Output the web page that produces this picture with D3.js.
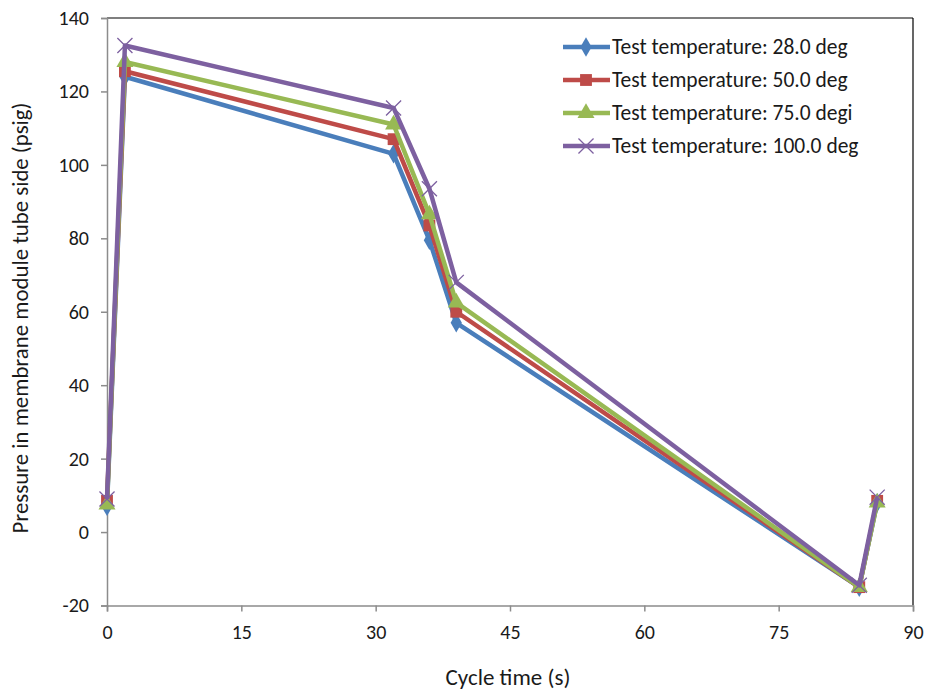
<!doctype html>
<html>
  <head>
    <meta charset='utf-8'>
    <script src="https://d3js.org/d3.v7.min.js"></script>
    <style>
      body { margin: 0; background: #fff; }
      text { font-family: Calibri, "Liberation Sans", sans-serif; fill: #1a1a1a; }
    </style>
  </head>

  <body>
  <svg width="927" height="690"></svg>

  <script>
    const cycleTime = [0, 2, 32, 36, 39, 84, 86];
    const t28 = [7, 124, 103, 79.5, 57, -15, 8];
    const t50 = [8.5, 125.5, 107, 83.5, 60, -15, 8.5];
    const t75 = [7.5, 128, 111, 86.5, 62.5, -15, 8];
    const t100 = [9, 132.5, 115.5, 93.5, 68, -14.5, 9.5];
    const seriesNames = ["Test temperature: 28.0 deg", "Test temperature: 50.0 deg",
                         "Test temperature: 75.0 degi", "Test temperature: 100.0 deg"];
    const xTicks = [0, 15, 30, 45, 60, 75, 90];
    const yTicks = [-20, 0, 20, 40, 60, 80, 100, 120, 140];

    const series = [
      {name: seriesNames[0], values: t28, color: "#4a7ebb", marker: "diamond"},
      {name: seriesNames[1], values: t50, color: "#be4b48", marker: "square"},
      {name: seriesNames[2], values: t75, color: "#98b954", marker: "triangle"},
      {name: seriesNames[3], values: t100, color: "#7d60a0", marker: "cross"}
    ];

    const svg = d3.select("svg");
    const plotL = 107, plotR = 913, plotT = 18, plotB = 605.5;

    const x = d3.scaleLinear().domain([0, 90]).range([plotL, plotR]);
    const y = d3.scaleLinear().domain([-20, 140]).range([plotB, plotT]);

    // frame: top and right black, axes gray
    svg.append("line").attr("x1", plotL).attr("x2", plotR).attr("y1", plotT).attr("y2", plotT)
      .attr("stroke", "#000").attr("stroke-width", 1.2);
    svg.append("line").attr("x1", plotR).attr("x2", plotR).attr("y1", plotT).attr("y2", plotB)
      .attr("stroke", "#000").attr("stroke-width", 1.2);

    const xAxis = svg.append("g")
      .attr("transform", `translate(0,${plotB})`)
      .call(d3.axisBottom(x).tickValues(xTicks).tickSize(6).tickPadding(13)
        .tickFormat((d) => String(d)));
    const yAxis = svg.append("g")
      .attr("transform", `translate(${plotL},0)`)
      .call(d3.axisLeft(y).tickValues(yTicks).tickSize(6).tickPadding(12)
        .tickFormat((d) => String(d)));

    [xAxis, yAxis].forEach((g) => {
      g.select(".domain").attr("stroke", "#8c8c8c").attr("stroke-width", 1.5);
      g.selectAll(".tick line").attr("stroke", "#8c8c8c").attr("stroke-width", 1.5);
      g.selectAll(".tick text").style("font-family", "Calibri, 'Liberation Sans', sans-serif")
        .style("font-size", "20px").attr("fill", "#1a1a2a");
    });

    svg.append("text")
      .attr("x", 508).attr("y", 685)
      .attr("text-anchor", "middle").style("font-size", "23px")
      .text("Cycle time (s)");

    svg.append("text")
      .attr("transform", `translate(28,318) rotate(-90)`)
      .attr("text-anchor", "middle").style("font-size", "22.8px")
      .text("Pressure in membrane module tube side (psig)");

    const symbolFor = (m) => {
      if (m === "diamond") return d3.symbol().type(d3.symbolDiamond).size(110)();
      if (m === "square") return d3.symbol().type(d3.symbolSquare).size(140)();
      if (m === "triangle") return d3.symbol().type(d3.symbolTriangle).size(125)();
      return d3.symbol().type(d3.symbolX).size(150)();
    };

    const drawMarker = (g, s, cx, cy) => {
      const p = g.append("path")
        .attr("d", symbolFor(s.marker))
        .attr("transform", `translate(${cx},${cy})`);
      if (s.marker === "cross") {
        p.attr("fill", "none").attr("stroke", s.color).attr("stroke-width", 1.3);
      } else {
        p.attr("fill", s.color);
      }
    };

    const line = d3.line()
      .x((d, i) => x(cycleTime[i]))
      .y((d) => y(d));

    series.forEach((s) => {
      const g = svg.append("g");
      g.append("path")
        .attr("d", line(s.values))
        .attr("fill", "none")
        .attr("stroke", s.color)
        .attr("stroke-width", 4.5)
        .attr("stroke-linejoin", "round");
      s.values.forEach((v, i) => drawMarker(g, s, x(cycleTime[i]), y(v)));
    });

    // legend
    const legend = svg.append("g").attr("transform", "translate(563,47)");
    series.forEach((s, i) => {
      const g = legend.append("g").attr("transform", `translate(0,${i * 33})`);
      g.append("line").attr("x1", 0).attr("x2", 47).attr("y1", 0).attr("y2", 0)
        .attr("stroke", s.color).attr("stroke-width", 4.5);
      drawMarker(g, s, 23, 0);
      g.append("text").attr("x", 49).attr("y", 7)
        .style("font-size", "21.5px")
        .text(s.name);
    });
  </script>
  </body>
</html>
